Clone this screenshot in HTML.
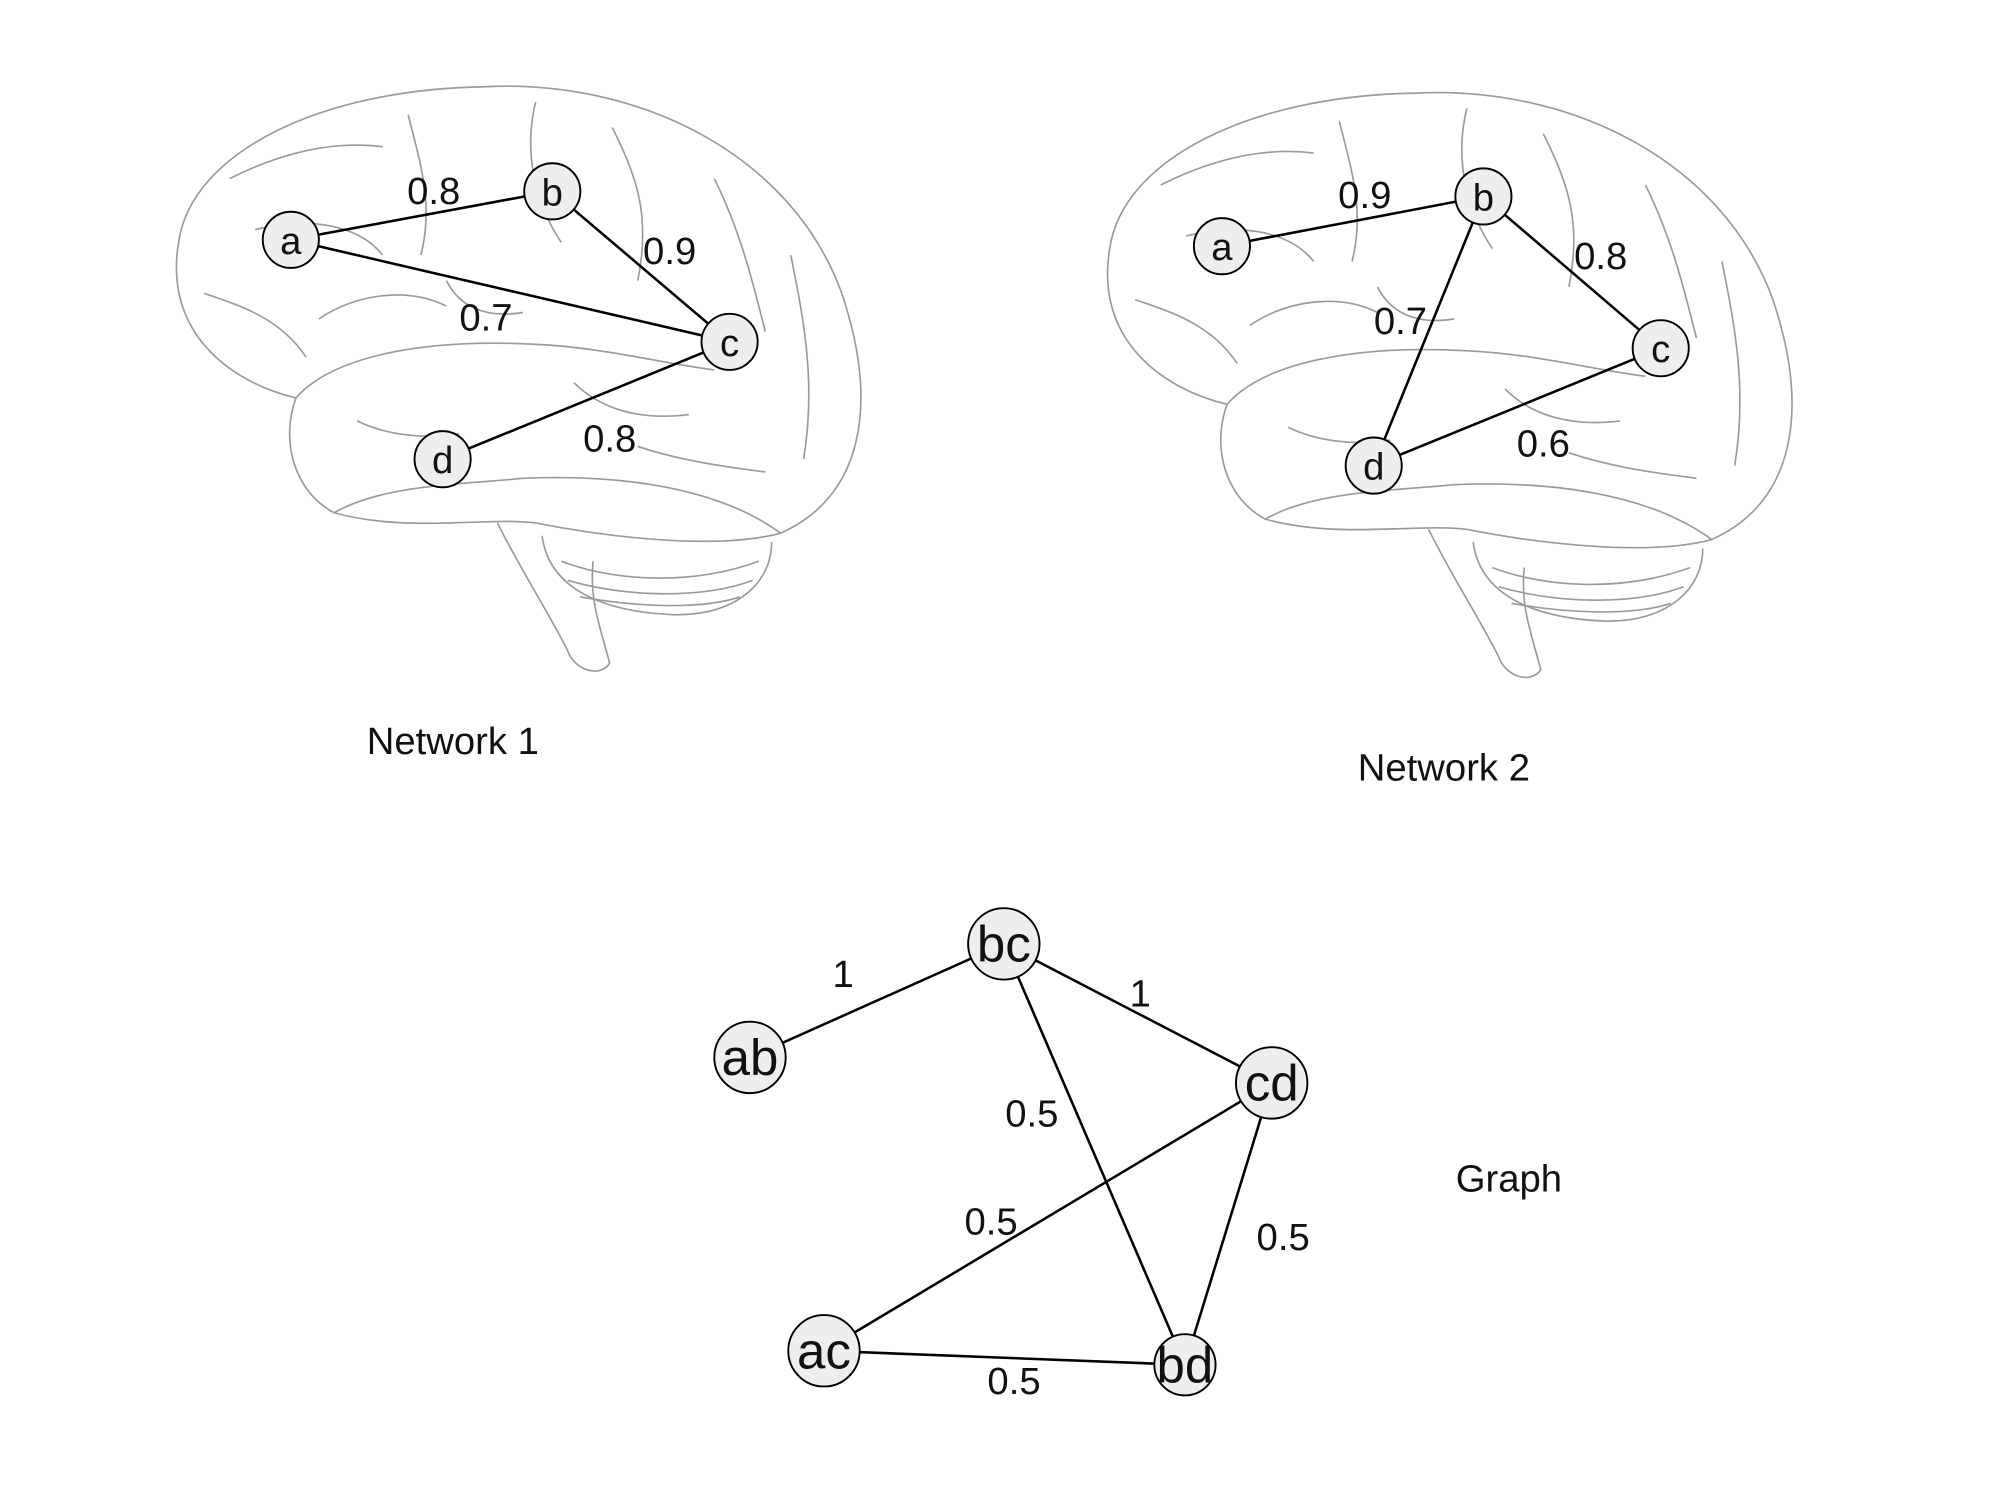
<!DOCTYPE html>
<html><head><meta charset="utf-8"><style>
html,body{margin:0;padding:0;background:#fff;}
svg{display:block;}
text{font-family:"Liberation Sans",sans-serif;fill:#111;}
</style></head><body>
<svg width="2000" height="1500" viewBox="0 0 1568 1176" preserveAspectRatio="none" xmlns="http://www.w3.org/2000/svg">
<defs>
<g id="brain" fill="none" stroke="#9a9a9a" stroke-width="1.3">
  <path d="M140,190 C150,120 250,70 380,68 C500,62 620,120 660,230 C690,320 675,390 612,418 C560,432 470,420 420,410 C380,405 320,418 262,402 C230,385 220,345 232,312 C182,300 128,262 140,190 Z"/>
  <path d="M232,312 C260,280 330,265 420,270 C470,272 520,285 560,290"/>
  <path d="M262,402 C300,380 360,380 410,375 C480,372 560,380 612,418"/>
  <path d="M180,140 C220,120 260,110 300,115 M200,180 C240,170 280,175 300,200 M320,90 C330,130 340,160 330,200 M420,80 C410,120 420,160 440,190 M480,100 C500,140 510,170 500,220 M560,140 C580,180 590,220 600,260 M620,200 C630,250 640,300 630,360 M160,230 C190,240 220,250 240,280 M350,220 C360,240 380,250 410,245 M450,300 C470,320 500,330 540,325 M280,330 C300,340 330,345 360,340 M500,350 C530,360 560,365 600,370 M250,250 C280,230 320,225 350,240"/>
  <path d="M390,410 C410,450 430,480 445,510 C450,525 470,532 478,520 C470,490 462,470 465,440"/>
  <path d="M425,420 C430,460 470,480 530,482 C580,482 605,455 605,425"/>
  <path d="M440,440 C480,455 540,460 595,440 M445,455 C490,468 550,470 590,455 M455,468 C500,476 550,478 580,468"/>
</g>
</defs>
<use href="#brain"/>
<use href="#brain" transform="translate(730,5)"/>

<g stroke="#000" stroke-width="2" fill="none">
  <line x1="228" y1="188" x2="433" y2="150"/>
  <line x1="228" y1="188" x2="572" y2="268"/>
  <line x1="433" y1="150" x2="572" y2="268"/>
  <line x1="347" y1="360" x2="572" y2="268"/>
  <line x1="958" y1="193" x2="1163" y2="154"/>
  <line x1="1163" y1="154" x2="1302" y2="273"/>
  <line x1="1163" y1="154" x2="1077" y2="365"/>
  <line x1="1077" y1="365" x2="1302" y2="273"/>
  <line x1="588" y1="829" x2="787" y2="740"/>
  <line x1="787" y1="740" x2="997" y2="849"/>
  <line x1="787" y1="740" x2="929" y2="1070"/>
  <line x1="997" y1="849" x2="646" y2="1059"/>
  <line x1="997" y1="849" x2="929" y2="1070"/>
  <line x1="646" y1="1059" x2="929" y2="1070"/>
</g>
<g fill="#eeeeee" stroke="#000" stroke-width="1.5">
  <circle cx="228" cy="188" r="22"/><circle cx="433" cy="150" r="22"/>
  <circle cx="572" cy="268" r="22"/><circle cx="347" cy="360" r="22"/>
  <circle cx="958" cy="193" r="22"/><circle cx="1163" cy="154" r="22"/>
  <circle cx="1302" cy="273" r="22"/><circle cx="1077" cy="365" r="22"/>
  <circle cx="588" cy="829" r="28"/><circle cx="787" cy="740" r="28"/>
  <circle cx="997" cy="849" r="28"/><circle cx="646" cy="1059" r="28"/>
  <circle cx="929" cy="1070" r="24"/>
</g>
<g font-size="30" text-anchor="middle">
  <text x="228" y="199">a</text><text x="433" y="161">b</text>
  <text x="572" y="279">c</text><text x="347" y="371">d</text>
  <text x="958" y="204">a</text><text x="1163" y="165">b</text>
  <text x="1302" y="284">c</text><text x="1077" y="376">d</text>
  <text x="340" y="160">0.8</text><text x="525" y="207">0.9</text>
  <text x="381" y="259">0.7</text><text x="478" y="354">0.8</text>
  <text x="1070" y="163">0.9</text><text x="1255" y="211">0.8</text>
  <text x="1098" y="262">0.7</text><text x="1210" y="358">0.6</text>
  <text x="661" y="774">1</text><text x="894" y="789">1</text>
  <text x="809" y="883">0.5</text><text x="777" y="968">0.5</text>
  <text x="1006" y="980">0.5</text><text x="795" y="1093">0.5</text>
  <text x="355" y="591">Network 1</text><text x="1132" y="612">Network 2</text>
  <text x="1183" y="934">Graph</text>
</g>
<g font-size="40" text-anchor="middle">
  <text x="588" y="843">ab</text><text x="787" y="754">bc</text>
  <text x="997" y="863">cd</text><text x="646" y="1073">ac</text>
  <text x="929" y="1084">bd</text>
</g>
</svg>
</body></html>
